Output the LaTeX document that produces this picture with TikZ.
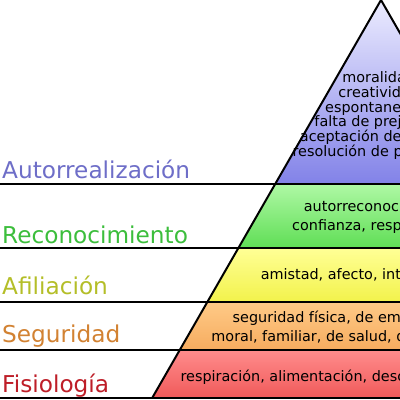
\documentclass[tikz,border=0pt]{standalone}
\usepackage{fontspec}
\setmainfont{DejaVu Sans}

\definecolor{autocol}{RGB}{110,110,200}
\definecolor{recocol}{RGB}{60,190,60}
\definecolor{aficol}{RGB}{180,190,40}
\definecolor{segcol}{RGB}{210,130,50}
\definecolor{fisicol}{RGB}{190,30,40}

\tikzset{
    nivel/.style={font=\fontsize{23.2}{27}\selectfont, anchor=base west, inner sep=0pt},
    lista/.style={font=\fontsize{14.4}{19}\selectfont, align=center, inner sep=0pt},
    borde/.style={line width=2pt, line join=round},
}

\begin{document}
\begin{tikzpicture}[x=1pt,y=1pt]
    \useasboundingbox (0,0) rectangle (400,400);
    \clip (0,0) rectangle (400,400);
    \fill[white] (0,0) rectangle (400,400);

    \shade[top color={rgb,255:red,236;green,236;blue,255}, bottom color={rgb,255:red,130;green,130;blue,232}]
        (381,400) -- (275.2,216) -- (486.8,216) -- cycle;
    \shade[top color={rgb,255:red,175;green,248;blue,165}, bottom color={rgb,255:red,95;green,222;blue,85}]
        (275.2,216) -- (238.4,152) -- (523.6,152) -- (486.8,216) -- cycle;
    \shade[top color={rgb,255:red,255;green,255;blue,150}, bottom color={rgb,255:red,242;green,242;blue,75}]
        (238.4,152) -- (207.4,98) -- (554.6,98) -- (523.6,152) -- cycle;
    \shade[top color={rgb,255:red,255;green,202;blue,135}, bottom color={rgb,255:red,246;green,172;blue,95}]
        (207.4,98) -- (179.75,50) -- (582.25,50) -- (554.6,98) -- cycle;
    \shade[top color={rgb,255:red,255;green,140;blue,140}, bottom color={rgb,255:red,240;green,90;blue,90}]
        (179.75,50) -- (152.15,2) -- (609.85,2) -- (582.25,50) -- cycle;

    \draw[borde] (152.15,2) -- (381,400) -- (609.85,2);
    \foreach \y in {216,152,98,50,2}{
        \draw[borde] (0,\y) -- (620,\y);
    }

    \node[nivel, text=autocol] (autorr) at (2,221) {Autorrealización};
    \node[nivel, text=recocol] (recon) at (2,157) {Reconocimiento};
    \node[nivel, text=aficol] (afil) at (2,105) {Afiliación};
    \node[nivel, text=segcol] (segur) at (2,57) {Seguridad};
    \node[nivel, text=fisicol] (fisio) at (2,8) {Fisiología};

    \node[lista, font=\fontsize{14.4}{14.7}\selectfont] (autotxt) at (381,284.5)
        {moralidad,\\creatividad,\\espontaneidad,\\falta de prejuicios,\\aceptación de hechos,\\resolución de problemas};
    \node[lista] (recotxt) at (381,182.5) {autorreconocimiento,\\confianza, respeto, éxito};
    \node[lista] (afitxt) at (381,125) {amistad, afecto, intimidad sexual};
    \node[lista] (segtxt) at (381,72.5)
        {seguridad física, de empleo, de recursos,\\moral, familiar, de salud, de propiedad privada};
    \node[lista] (fisitxt) at (381,23) {respiración, alimentación, descanso, sexo, homeostasis};

\end{tikzpicture}
\end{document}
